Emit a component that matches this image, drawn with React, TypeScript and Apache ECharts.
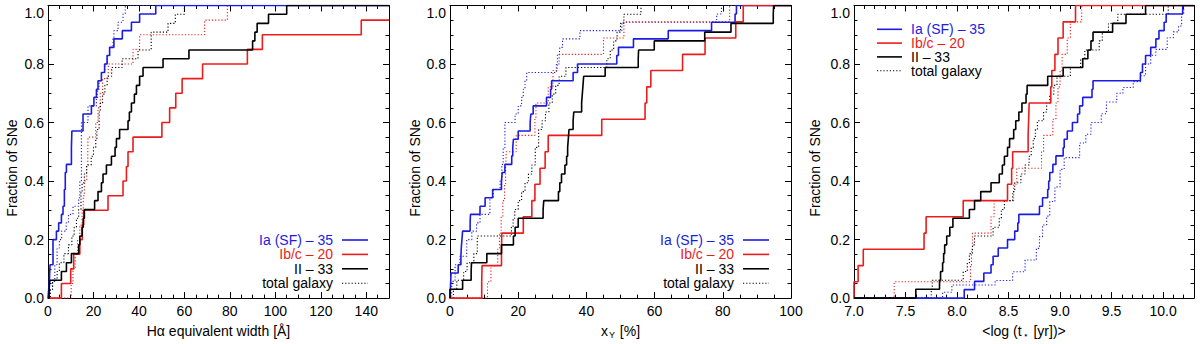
import React, { useEffect, useRef } from 'react';
import * as echarts from 'echarts';

type Pt = [number, number];

// ---------- Panel 1: H-alpha equivalent width ----------
const ewIa: Pt[] = [[0.3,0.029],[0.6,0.057],[0.9,0.114],[2.2,0.2],[3.7,0.229],[4.7,0.257],[5.9,0.286],[6.6,0.314],[7.2,0.371],[7.6,0.429],[8.1,0.457],[10.3,0.514],[10.5,0.571],[15.4,0.629],[19.1,0.657],[20.2,0.686],[21.3,0.714],[22,0.743],[23.5,0.771],[24.9,0.8],[26,0.829],[27.1,0.857],[29,0.886],[32.7,0.914],[36.7,0.943],[40.3,0.971],[47.4,1.0]];
const ewIbc: Pt[] = [[5.9,0.05],[10,0.1],[11.3,0.15],[14,0.2],[15.1,0.25],[15.7,0.3],[26.4,0.35],[33,0.4],[34.5,0.45],[35.2,0.5],[37.4,0.55],[50.1,0.6],[53.5,0.65],[56.2,0.7],[59,0.75],[68,0.8],[87.7,0.85],[94.3,0.9],[137.8,0.95]];
const ewII: Pt[] = [[0.5,0.03],[0.8,0.061],[5.9,0.091],[8.1,0.121],[10.3,0.152],[13.5,0.182],[14,0.212],[15,0.242],[15.5,0.273],[16,0.303],[20.5,0.333],[22,0.364],[23.5,0.394],[24.2,0.424],[25.7,0.455],[27.9,0.485],[29.5,0.515],[30.1,0.545],[31.5,0.576],[35.2,0.606],[35.8,0.636],[36.7,0.667],[38,0.697],[38.9,0.727],[40.3,0.758],[41.8,0.788],[50.6,0.818],[62,0.848],[90,0.879],[91,0.909],[92,0.939],[97,0.97],[105,1.0]];
const ewIaTotal: Pt[] = [[1,0.029],[2,0.057],[3,0.114],[4,0.171],[5,0.2],[6,0.229],[8,0.257],[9,0.286],[11,0.314],[13.5,0.343],[14,0.4],[14.7,0.6],[17.6,0.657],[21.3,0.686],[21.8,0.714],[22.5,0.743],[23.5,0.771],[25,0.8],[26,0.829],[27.1,0.857],[28.6,0.886],[29,0.914],[30.8,0.943],[33,0.971],[34,1.0]];
const ewIbcTotal: Pt[] = [[10.2,0.05],[11,0.1],[12,0.15],[13,0.2],[14,0.25],[15,0.3],[15.5,0.35],[16,0.4],[17,0.45],[17.5,0.5],[17.6,0.55],[21,0.6],[22,0.65],[23,0.7],[24,0.75],[26.5,0.8],[37.4,0.85],[40.3,0.9],[68.9,0.95],[78.9,1.0]];
const ewIITotal: Pt[] = [[1,0.03],[2,0.061],[4,0.091],[5,0.121],[7,0.152],[9,0.182],[10.5,0.212],[11.5,0.242],[12.5,0.273],[13.5,0.303],[14.5,0.364],[15,0.394],[16,0.424],[17,0.455],[19,0.485],[20,0.515],[21,0.545],[21.5,0.576],[22.5,0.636],[23,0.667],[24,0.697],[25,0.727],[26,0.758],[28,0.788],[32.6,0.818],[39.6,0.848],[45.4,0.909],[52.8,0.939],[56,0.97],[60,1.0]];

// ---------- Panel 2: x_Y [%] ----------
const xyIa: Pt[] = [[0.2,0.057],[0.3,0.086],[2.4,0.114],[3.2,0.143],[3.3,0.171],[3.5,0.2],[3.7,0.229],[5.9,0.257],[6,0.286],[8.8,0.314],[10.3,0.343],[12.5,0.371],[15.1,0.4],[15.3,0.429],[16.1,0.457],[18.1,0.486],[18.4,0.514],[18.6,0.543],[20,0.571],[23.5,0.6],[23.7,0.629],[24.4,0.657],[28.3,0.686],[29.5,0.714],[29.8,0.743],[36.1,0.771],[37.4,0.8],[48.9,0.829],[49.4,0.857],[53.8,0.886],[64,0.914],[76.7,0.943],[83.6,0.971],[84,1.0]];
const xyIbc: Pt[] = [[9.3,0.056],[9.4,0.111],[15.1,0.167],[15.2,0.222],[21.5,0.278],[24,0.333],[24.9,0.389],[26.4,0.444],[27.9,0.5],[28.8,0.556],[44.5,0.611],[57.2,0.667],[57.7,0.722],[58.9,0.778],[68.2,0.833],[74.8,0.889],[83.8,0.944],[86,1.0]];
const xyII: Pt[] = [[0,0.03],[3.7,0.061],[6.2,0.091],[6.3,0.121],[10.8,0.152],[15.1,0.182],[18.6,0.212],[19.1,0.242],[20,0.273],[27.3,0.303],[27.5,0.333],[31.8,0.364],[32.2,0.394],[32.7,0.424],[33.7,0.455],[34.2,0.485],[34.5,0.515],[34.7,0.545],[34.9,0.576],[36.1,0.606],[36.3,0.636],[38.6,0.667],[38.8,0.697],[39,0.727],[39.2,0.758],[45.5,0.788],[55.2,0.818],[55.3,0.848],[59.9,0.879],[74.7,0.909],[82.4,0.939],[94.8,0.97],[94.9,1.0]];
const xyIaTotal: Pt[] = [[0.5,0.057],[1.5,0.114],[2.9,0.143],[4.9,0.2],[6.4,0.229],[7.8,0.257],[8.8,0.286],[11.7,0.343],[12.7,0.371],[14.7,0.4],[15.2,0.457],[15.6,0.514],[16.1,0.6],[19.1,0.629],[20,0.657],[21,0.686],[21.5,0.714],[22,0.743],[22.5,0.771],[31.2,0.8],[32,0.829],[32.2,0.857],[33,0.886],[38.1,0.914],[50.4,0.943],[78.2,0.971],[79.6,1.0]];
const xyIbcTotal: Pt[] = [[11,0.056],[12,0.111],[14,0.167],[14.5,0.222],[15,0.278],[15.5,0.333],[16,0.389],[16.3,0.444],[16.5,0.5],[19.4,0.556],[24.9,0.611],[25.2,0.667],[28.8,0.722],[30.2,0.778],[31.5,0.833],[45,0.889],[51,0.944],[82,1.0]];
const xyIITotal: Pt[] = [[1,0.03],[2,0.061],[4,0.091],[5,0.121],[7,0.152],[8,0.212],[18,0.242],[18.5,0.273],[19,0.303],[20,0.333],[21,0.364],[22,0.394],[23,0.424],[24,0.455],[25,0.515],[26,0.576],[27,0.606],[28,0.636],[29,0.667],[30,0.697],[31,0.727],[32,0.758],[34,0.788],[46,0.818],[47,0.848],[48,0.879],[49,0.909],[50,0.939],[51,0.97],[56,1.0]];

// ---------- Panel 3: <log(t* [yr])> ----------
const ageIa: Pt[] = [[8.07,0.029],[8.17,0.057],[8.26,0.086],[8.33,0.114],[8.35,0.143],[8.4,0.171],[8.49,0.2],[8.56,0.229],[8.59,0.257],[8.6,0.286],[8.8,0.314],[8.83,0.343],[8.88,0.371],[8.89,0.4],[8.9,0.429],[8.93,0.457],[8.96,0.486],[9.03,0.514],[9.04,0.543],[9.07,0.571],[9.12,0.6],[9.17,0.629],[9.19,0.657],[9.22,0.686],[9.31,0.714],[9.32,0.743],[9.78,0.771],[9.8,0.8],[9.83,0.829],[9.88,0.857],[9.93,0.886],[9.96,0.914],[10.01,0.943],[10.03,0.971],[10.19,1.0]];
const ageIbc: Pt[] = [[7.0,0.056],[7.04,0.111],[7.09,0.167],[7.68,0.222],[7.7,0.278],[8.06,0.333],[8.49,0.389],[8.53,0.444],[8.54,0.5],[8.69,0.556],[8.695,0.611],[8.7,0.667],[8.91,0.722],[8.92,0.778],[8.95,0.833],[8.98,0.889],[9.03,0.944],[9.15,1.0]];
const ageII: Pt[] = [[7.6,0.03],[7.83,0.061],[7.84,0.091],[7.86,0.121],[7.87,0.152],[7.88,0.182],[7.9,0.212],[7.93,0.242],[7.96,0.273],[8.12,0.303],[8.17,0.333],[8.23,0.364],[8.33,0.394],[8.41,0.424],[8.44,0.455],[8.46,0.485],[8.49,0.515],[8.51,0.545],[8.55,0.576],[8.57,0.606],[8.6,0.636],[8.63,0.667],[8.67,0.697],[8.68,0.727],[8.88,0.758],[9.03,0.788],[9.22,0.818],[9.27,0.848],[9.3,0.879],[9.32,0.909],[9.51,0.939],[9.64,0.97],[9.83,1.0]];
const ageIaTotal: Pt[] = [[7.86,0.02],[7.95,0.045],[8.37,0.06],[8.54,0.09],[8.66,0.13],[8.77,0.17],[8.8,0.21],[8.83,0.25],[8.87,0.28],[8.9,0.33],[8.95,0.38],[9.0,0.44],[9.04,0.48],[9.19,0.53],[9.25,0.56],[9.3,0.6],[9.4,0.63],[9.45,0.67],[9.55,0.7],[9.61,0.72],[9.71,0.74],[9.78,0.76],[9.83,0.8],[9.88,0.83],[9.93,0.85],[10.04,0.89],[10.1,0.91],[10.15,0.93],[10.18,0.97],[10.2,1.0]];
const ageIbcTotal: Pt[] = [[7.39,0.056],[8.13,0.111],[8.14,0.167],[8.15,0.222],[8.33,0.278],[8.36,0.333],[8.55,0.389],[8.58,0.444],[8.82,0.5],[8.84,0.556],[8.93,0.611],[8.96,0.667],[8.98,0.722],[9.0,0.778],[9.02,0.833],[9.07,0.889],[9.1,0.944],[9.21,1.0]];
const ageIITotal: Pt[] = [[7.75,0.03],[7.76,0.061],[8.06,0.091],[8.1,0.121],[8.12,0.152],[8.15,0.182],[8.17,0.212],[8.35,0.242],[8.41,0.273],[8.43,0.303],[8.46,0.333],[8.54,0.364],[8.56,0.394],[8.62,0.424],[8.66,0.455],[8.7,0.485],[8.72,0.515],[8.74,0.545],[8.76,0.576],[8.78,0.606],[8.84,0.636],[8.87,0.667],[8.9,0.697],[8.94,0.727],[8.97,0.758],[9.1,0.788],[9.2,0.818],[9.24,0.848],[9.38,0.879],[9.41,0.909],[9.47,0.939],[9.56,0.97],[10.05,1.0]];

// ---------- Axes ----------
const xMins = [0, 0, 7.0];
const xMaxs = [150, 100, 10.3];
const xIntervals = [20, 20, 0.5];
const xMinorSplits = [4, 4, 5];
const xDecimals = [0, 0, 1];
const xShowMaxLabel = [false, true, false];
const xNames = ['Hα equivalent width [Å]', 'x{sub|Y} [%]', '<log (t{sub|⋆} [yr])>'];
const yName = 'Fraction of SNe';
const yTicks = { min: 0, max: 1, interval: 0.2, minorSplit: 4 };

const legendLabels = ['Ia (SF) – 35', 'Ib/c – 20', 'II – 33', 'total galaxy'];

const BLUE = '#1c1ce0';
const RED = '#ec1c1c';
const BLACK = '#000000';
const FONT = '"Liberation Sans", Arial, Helvetica, sans-serif';

const panels = [
  { solid: [ewIa, ewIbc, ewII], total: [ewIaTotal, ewIbcTotal, ewIITotal] },
  { solid: [xyIa, xyIbc, xyII], total: [xyIaTotal, xyIbcTotal, xyIITotal] },
  { solid: [ageIa, ageIbc, ageII], total: [ageIaTotal, ageIbcTotal, ageIITotal] },
];
const colors = [BLUE, RED, BLACK];

// layout (pixels)
const gridLefts = [48, 450, 854];
const gridWidths = [341, 341, 340];
const GRID_TOP = 5.5;
const GRID_BOTTOM = 37;

function buildOption(): any {
  const grid: any[] = [];
  const xAxis: any[] = [];
  const yAxis: any[] = [];
  const series: any[] = [];
  const graphic: any[] = [];

  const tickStyle = { color: '#000', width: 1 };

  panels.forEach((p, i) => {
    grid.push({ left: gridLefts[i], width: gridWidths[i], top: GRID_TOP, bottom: GRID_BOTTOM });
    const common = {
      gridIndex: i,
      type: 'value',
      min: xMins[i],
      max: xMaxs[i],
      interval: xIntervals[i],
      axisLine: { show: true, onZero: false, lineStyle: tickStyle },
      axisTick: { show: true, inside: true, length: 6, lineStyle: tickStyle },
      minorTick: { show: true, splitNumber: xMinorSplits[i], length: 3.5, lineStyle: tickStyle },
      splitLine: { show: false },
      minorSplitLine: { show: false },
    };
    xAxis.push({
      ...common,
      position: 'bottom',
      axisLabel: {
        show: true,
        color: '#000',
        fontSize: 14,
        fontFamily: FONT,
        margin: 6,
        showMaxLabel: xShowMaxLabel[i],
        formatter: (v: number) => v.toFixed(xDecimals[i]),
      },
      name: xNames[i],
      nameLocation: 'middle',
      nameGap: 22,
      nameTextStyle: {
        color: '#000',
        fontSize: 14,
        fontFamily: FONT,
        lineHeight: 16,
        rich: {
          sub: { fontSize: 9, fontFamily: FONT, color: '#000', lineHeight: 9, verticalAlign: 'bottom', padding: [0, 1, 0, 1] },
        },
      },
    });
    xAxis.push({ ...common, position: 'top', axisLabel: { show: false } });

    const ycommon = {
      gridIndex: i,
      type: 'value',
      min: yTicks.min,
      max: yTicks.max,
      interval: yTicks.interval,
      axisLine: { show: true, onZero: false, lineStyle: tickStyle },
      axisTick: { show: true, inside: true, length: 6, lineStyle: tickStyle },
      minorTick: { show: true, splitNumber: yTicks.minorSplit, length: 3.5, lineStyle: tickStyle },
      splitLine: { show: false },
      minorSplitLine: { show: false },
    };
    yAxis.push({
      ...ycommon,
      position: 'left',
      axisLabel: {
        show: true,
        color: '#000',
        fontSize: 14,
        fontFamily: FONT,
        margin: 4,
        verticalAlignMaxLabel: 'top',
        formatter: (v: number) => v.toFixed(1),
      },
    });
    yAxis.push({ ...ycommon, position: 'right', axisLabel: { show: false } });

    const xmin = xMins[i];
    const xmax = xMaxs[i];
    const mk = (pts: Pt[]) => [[xmin, 0], ...pts, [xmax, pts[pts.length - 1][1]]];

    p.total.forEach((pts, k) => {
      series.push({
        type: 'line',
        xAxisIndex: 2 * i,
        yAxisIndex: 2 * i,
        step: 'end',
        showSymbol: false,
        symbol: 'none',
        silent: true,
        data: mk(pts),
        lineStyle: { color: colors[k], width: 1.1, type: [1.2, 2] },
        z: 2,
      });
    });
    p.solid.forEach((pts, k) => {
      series.push({
        type: 'line',
        xAxisIndex: 2 * i,
        yAxisIndex: 2 * i,
        step: 'end',
        showSymbol: false,
        symbol: 'none',
        silent: true,
        data: mk(pts),
        lineStyle: { color: colors[k], width: 1.6 },
        z: 3,
      });
    });
  });

  // y axis names
  const yNameX = [11.7, 415.3, 815.3];
  yNameX.forEach((x) => {
    graphic.push({
      type: 'text',
      x,
      y: 168,
      rotation: Math.PI / 2,
      style: { text: yName, fill: '#000', fontSize: 14, fontFamily: FONT, align: 'center', verticalAlign: 'middle' },
    });
  });

  // legends
  const legColors = [BLUE, RED, BLACK, BLACK];
  const legDash = [false, false, false, true];
  const legendRight = (ax: number, ay: number) => {
    legendLabels.forEach((lab, k) => {
      const y = ay + k * 14.4;
      graphic.push({
        type: 'text',
        x: ax,
        y,
        style: { text: lab, fill: k === 3 ? '#000' : legColors[k], fontSize: 14, fontFamily: FONT, align: 'right', verticalAlign: 'middle' },
      });
      graphic.push({
        type: 'line',
        shape: { x1: ax + 9, y1: y, x2: ax + 35, y2: y },
        style: { stroke: legColors[k], lineWidth: legDash[k] ? 1.1 : 1.6, lineDash: legDash[k] ? [1.2, 2] : null },
      });
    });
  };
  legendRight(333, 240);
  legendRight(734, 240);
  legendLabels.forEach((lab, k) => {
    const y = 29.3 + k * 13.8;
    const ax = 877;
    graphic.push({
      type: 'line',
      shape: { x1: ax, y1: y, x2: ax + 25, y2: y },
      style: { stroke: legColors[k], lineWidth: legDash[k] ? 1.1 : 1.6, lineDash: legDash[k] ? [1.2, 2] : null },
    });
    graphic.push({
      type: 'text',
      x: ax + 34,
      y,
      style: { text: lab, fill: k === 3 ? '#000' : legColors[k], fontSize: 14, fontFamily: FONT, align: 'left', verticalAlign: 'middle' },
    });
  });

  return {
    animation: false,
    backgroundColor: '#ffffff',
    textStyle: { fontFamily: FONT },
    grid,
    xAxis,
    yAxis,
    series,
    graphic,
  };
}

export default function App() {
  const ref = useRef<HTMLDivElement>(null);
  useEffect(() => {
    if (!ref.current) return;
    const chart = echarts.init(ref.current, null, { renderer: 'svg' });
    chart.setOption(buildOption());
    return () => chart.dispose();
  }, []);
  return <div ref={ref} style={{ position: 'absolute', left: 0, top: 0, width: 1200, height: 344 }} />;
}
